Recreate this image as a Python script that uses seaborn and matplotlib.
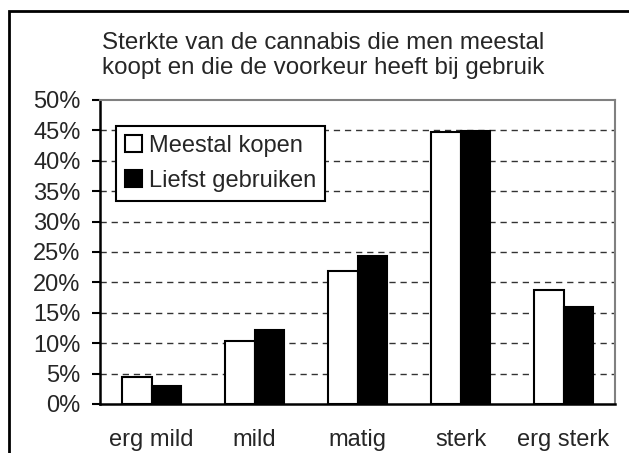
import pandas as pd
import seaborn as sns
import matplotlib.pyplot as plt
from matplotlib.patches import Rectangle

# ================= data =================
categories = ['erg mild', 'mild', 'matig', 'sterk', 'erg sterk']
meestal_kopen = [4.5, 10.3, 21.8, 44.8, 18.8]
liefst_gebruiken = [2.9, 12.1, 24.4, 44.9, 16.0]
series_names = ['Meestal kopen', 'Liefst gebruiken']
y_ticks = [0, 5, 10, 15, 20, 25, 30, 35, 40, 45, 50]

df = pd.DataFrame({
    'sterkte': categories * 2,
    'waarde': meestal_kopen + liefst_gebruiken,
    'reeks': [series_names[0]] * 5 + [series_names[1]] * 5,
})

sns.set_style('white')
plt.rcParams['font.family'] = ['Liberation Sans', 'DejaVu Sans']
fs = 17

fig = plt.figure(figsize=(6.29, 4.53), dpi=100)
ax = fig.add_axes([100 / 629, 49 / 453, 515 / 629, 304 / 453])

sns.barplot(data=df, x='sterkte', y='waarde', hue='reeks', order=categories,
            hue_order=series_names, palette=['white', 'black'],
            edgecolor='black', linewidth=1.5, width=0.58, saturation=1,
            ax=ax)

ax.set_ylim(0, 50)
ax.set_xlim(-0.5, 4.5)
ax.set_yticks(y_ticks)
ax.set_yticklabels([f'{t}%' for t in y_ticks], fontsize=fs)
ax.set_xticks(range(len(categories)))
ax.set_xticklabels(categories, fontsize=fs)
ax.set_xticks([i - 0.5 for i in range(len(categories) + 1)], minor=True)
ax.tick_params(axis='x', which='major', length=0, pad=18)
ax.tick_params(axis='x', which='minor', length=6, width=1.5, direction='out', color='black')
ax.tick_params(axis='y', length=6, width=1.5, direction='out', color='black', pad=8, left=True)
ax.set_xlabel('')
ax.set_ylabel('')

for y in y_ticks[1:-1]:
    ax.axhline(y, color='#333333', linestyle=(0, (4.5, 3.5)), linewidth=1, zorder=0)

for s in ['left', 'bottom']:
    ax.spines[s].set_color('black')
    ax.spines[s].set_linewidth(1.8)
for s in ['top', 'right']:
    ax.spines[s].set_color('#808080')
    ax.spines[s].set_linewidth(1.5)
ax.set_axisbelow(True)

leg = ax.legend(loc='upper left', bbox_to_anchor=(16 / 515, 1 - 26 / 304), fontsize=fs,
                frameon=True, fancybox=False, edgecolor='black', framealpha=1,
                handlelength=0.7, handleheight=0.7, handletextpad=0.3,
                borderpad=0.38, labelspacing=0.55, borderaxespad=0)
leg.get_frame().set_linewidth(1.5)
for h in leg.legend_handles:
    h.set_edgecolor('black')
    h.set_linewidth(1.5)

fig.text(102 / 629, 1 - 55.5 / 453, 'Sterkte van de cannabis die men meestal\nkoopt en die de voorkeur heeft bij gebruik',
         fontsize=17.4, ha='left', va='center', linespacing=1.2)

# outer chart border
fig.patches.append(Rectangle((9 / 629, -0.1), 1.1, 1 - 11 / 453 + 0.1, transform=fig.transFigure,
                             fill=False, edgecolor='black', linewidth=2, clip_on=False))

fig.savefig('out.png', dpi=100)
